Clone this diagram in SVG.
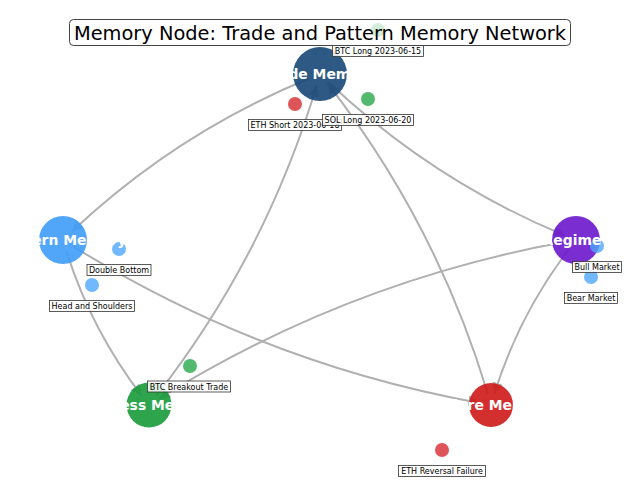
<svg xmlns="http://www.w3.org/2000/svg" width="640" height="486" viewBox="0 0 640 486">
<style>
.edge{fill:none;stroke:#b0b0b0;stroke-width:2;marker-end:url(#ah)}
.node{opacity:0.9}
.nl{font-family:"DejaVu Sans",sans-serif;font-weight:bold;font-size:13.9px;fill:#fff;text-anchor:middle}
.dot{opacity:0.8}
.lb{fill:#fff;fill-opacity:0.85;stroke:#333;stroke-width:0.8}
.lt{font-family:"DejaVu Sans",sans-serif;font-size:8px;fill:#000;text-anchor:middle}
</style>
<defs>
<marker id="ah" markerUnits="userSpaceOnUse" markerWidth="12" markerHeight="12" refX="11" refY="5.5" orient="auto">
<path d="M0,0 L11,5.5 L0,11 z" fill="#b0b0b0"/>
</marker>
</defs>
<rect width="640" height="486" fill="#fff"/>
<g id="edges">
<path class="edge" d="M308.9,78.5 Q176.1,133.2 71.7,231.7"/>
<path class="edge" d="M328.6,82.3 Q432.6,180.7 564.9,235.5"/>
<path class="edge" d="M156.5,395.6 Q265.6,255.6 316.7,85.5"/>
<path class="edge" d="M487.7,393.5 Q436.6,223.5 327.5,83.4"/>
<path class="edge" d="M66.5,251.5 Q91.5,330.1 141.6,395.6"/>
<path class="edge" d="M73.2,246.4 Q261.3,363.2 479.2,402.9"/>
<path class="edge" d="M564.2,242.1 Q346.8,281.9 159.1,398.6"/>
<path class="edge" d="M568.7,249.4 Q518.9,315 494.4,393.6"/>
</g>
<g id="node-trade"><circle class="node" cx="320" cy="74" r="27" fill="#164777"/></g>
<g id="node-pattern"><circle class="node" cx="63" cy="240" r="24" fill="#3f9cf9"/></g>
<g id="node-regime"><circle class="node" cx="576" cy="240" r="24" fill="#6b17cc"/></g>
<g id="node-success"><circle class="node" cx="149" cy="405" r="22.5" fill="#179b3a"/></g>
<g id="node-failure"><circle class="node" cx="491" cy="405" r="22" fill="#cf1818"/></g>
<g id="memory-dots">
<circle class="dot" cx="378" cy="30" r="7" fill="#27a84a"/>
<circle class="dot" cx="295" cy="104" r="7" fill="#d42a2e"/>
<circle class="dot" cx="368" cy="99" r="7" fill="#27a84a"/>
<circle class="dot" cx="119" cy="249" r="7" fill="#4da6ff"/>
<circle class="dot" cx="92" cy="285" r="7" fill="#4da6ff"/>
<circle class="dot" cx="597" cy="246" r="7" fill="#4da6ff"/>
<circle class="dot" cx="591" cy="277" r="7" fill="#4da6ff"/>
<circle class="dot" cx="190" cy="366" r="7" fill="#27a84a"/>
<circle class="dot" cx="442" cy="450" r="7" fill="#d42a2e"/>
</g>
<g id="node-labels">
<text class="nl" x="320" y="79">Trade Memory</text>
<text class="nl" x="63" y="245">Pattern Memory</text>
<text class="nl" x="572" y="245">Regime</text>
<text class="nl" x="149" y="410">Success Memory</text>
<text class="nl" x="491" y="410">Failure Memory</text>
</g>
<g id="memory-labels">
<rect class="lb" x="332.5" y="45.5" width="91" height="11"/><text class="lt" x="378" y="54">BTC Long 2023-06-15</text>
<rect class="lb" x="248.5" y="119.5" width="93" height="11"/><text class="lt" x="295" y="128">ETH Short 2023-06-18</text>
<rect class="lb" x="322.5" y="114.5" width="91" height="11"/><text class="lt" x="368" y="123">SOL Long 2023-06-20</text>
<rect class="lb" x="87" y="264.5" width="64" height="11"/><text class="lt" x="119" y="273">Double Bottom</text>
<rect class="lb" x="49.5" y="300.5" width="85" height="11"/><text class="lt" x="92" y="309">Head and Shoulders</text>
<rect class="lb" x="572.5" y="261.5" width="49" height="11"/><text class="lt" x="597" y="270">Bull Market</text>
<rect class="lb" x="564.5" y="292.5" width="53" height="11"/><text class="lt" x="591" y="301">Bear Market</text>
<rect class="lb" x="147.5" y="381" width="83" height="11"/><text class="lt" x="189" y="389.5">BTC Breakout Trade</text>
<rect class="lb" x="398.5" y="465.5" width="87" height="11"/><text class="lt" x="442" y="474">ETH Reversal Failure</text>
</g>
<g id="title">
<rect x="69.5" y="19.5" width="501" height="26" rx="4" fill="#fff" fill-opacity="0.75" stroke="#444" stroke-width="1"/>
<text x="320" y="40" font-family="DejaVu Sans,sans-serif" font-size="19.4" text-anchor="middle" fill="#000">Memory Node: Trade and Pattern Memory Network</text>
</g>
</svg>
